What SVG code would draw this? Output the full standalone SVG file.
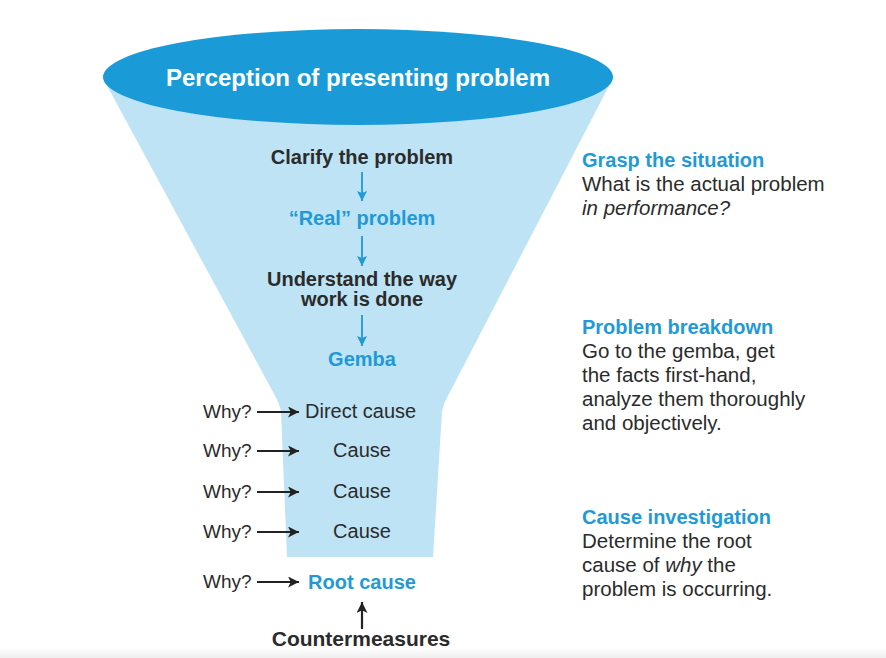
<svg xmlns="http://www.w3.org/2000/svg" width="886" height="658" viewBox="0 0 886 658">
<defs>
<style>
.t{font-family:"Liberation Sans",Arial,sans-serif;font-size:20px;fill:#2b2b2b}
.r{font-size:20.5px}
.b{font-weight:bold}
.blue{fill:#1f9ad6}
.w{fill:#ffffff}
.c{text-anchor:middle}
.i{font-style:italic}
.bl{stroke:#1f9ad6;stroke-width:1.8;fill:none}
.dk{stroke:#222;stroke-width:2.2;fill:none}
</style>
<marker id="ab" viewBox="0 0 10 10" refX="10" refY="5" markerWidth="11" markerHeight="10" markerUnits="userSpaceOnUse" orient="auto">
<path d="M0,0 L10,5 L0,10 L2,5 z" fill="#1f9ad6"/>
</marker>
<marker id="ad" viewBox="0 0 10 10" refX="10" refY="5" markerWidth="13" markerHeight="11" markerUnits="userSpaceOnUse" orient="auto">
<path d="M0,0 L10,5 L0,10 L2.5,5 z" fill="#222"/>
</marker>
<linearGradient id="g" x1="0" y1="0" x2="0" y2="1">
<stop offset="0" stop-color="#ffffff"/>
<stop offset="1" stop-color="#eeeeee"/>
</linearGradient>
</defs>
<rect width="886" height="658" fill="#ffffff"/>
<rect x="0" y="648" width="886" height="10" fill="url(#g)"/>

<g id="funnel">
<path d="M104,80 L612,80 L450,392 Q443,404 442,412 L433,557 L287,557 L281,412 Q280,404 273,392 Z" fill="#bee3f5"/>
<ellipse cx="358" cy="77" rx="255" ry="48" fill="#1a9bd7"/>
<text class="t b w c" x="358" y="86" style="font-size:24px">Perception of presenting problem</text>
</g>

<g id="clarify"><text class="t b c" x="362" y="164">Clarify the problem</text></g>
<g id="real"><text class="t b blue c" x="362" y="225">“Real” problem</text></g>
<g id="understand"><text class="t b c" x="362" y="286">Understand the way</text><text class="t b c" x="362" y="306">work is done</text></g>
<g id="gemba"><text class="t b blue c" x="362" y="366">Gemba</text></g>

<g id="direct"><text class="t" x="305" y="418">Direct cause</text></g>
<g id="cause1"><text class="t c" x="362" y="457">Cause</text></g>
<g id="cause2"><text class="t c" x="362" y="498">Cause</text></g>
<g id="cause3"><text class="t c" x="362" y="538">Cause</text></g>
<g id="root"><text class="t b blue c" x="362" y="589">Root cause</text></g>
<g id="counter"><text class="t b c" x="361" y="646" style="font-size:21px">Countermeasures</text></g>

<g id="why1"><text class="t" x="203" y="418" style="font-size:19px">Why?</text></g>
<g id="why2"><text class="t" x="203" y="457" style="font-size:19px">Why?</text></g>
<g id="why3"><text class="t" x="203" y="498" style="font-size:19px">Why?</text></g>
<g id="why4"><text class="t" x="203" y="538" style="font-size:19px">Why?</text></g>
<g id="why5"><text class="t" x="203" y="588" style="font-size:19px">Why?</text></g>

<g id="grasp">
<text class="t b blue" x="582" y="167">Grasp the situation</text>
<text class="t r" x="582" y="191">What is the actual problem</text>
<text class="t r i" x="582" y="215">in performance?</text>
</g>
<g id="breakdown">
<text class="t b blue" x="582" y="334">Problem breakdown</text>
<text class="t r" x="582" y="358">Go to the gemba, get</text>
<text class="t r" x="582" y="382">the facts first-hand,</text>
<text class="t r" x="582" y="406">analyze them thoroughly</text>
<text class="t r" x="582" y="430">and objectively.</text>
</g>
<g id="investigation">
<text class="t b blue" x="582" y="524">Cause investigation</text>
<text class="t r" x="582" y="548">Determine the root</text>
<text class="t r" x="582" y="572">cause of <tspan class="i">why</tspan> the</text>
<text class="t r" x="582" y="596">problem is occurring.</text>
</g>

<g id="connectors">
<line class="bl" x1="362" y1="172" x2="362" y2="201" marker-end="url(#ab)"/>
<line class="bl" x1="362" y1="236" x2="362" y2="266" marker-end="url(#ab)"/>
<line class="bl" x1="362" y1="315" x2="362" y2="346" marker-end="url(#ab)"/>
<line class="dk" x1="257" y1="412" x2="299" y2="412" marker-end="url(#ad)"/>
<line class="dk" x1="257" y1="451" x2="299" y2="451" marker-end="url(#ad)"/>
<line class="dk" x1="257" y1="492" x2="299" y2="492" marker-end="url(#ad)"/>
<line class="dk" x1="257" y1="532" x2="299" y2="532" marker-end="url(#ad)"/>
<line class="dk" x1="257" y1="582" x2="299" y2="582" marker-end="url(#ad)"/>
<line class="dk" x1="362" y1="629" x2="362" y2="602" marker-end="url(#ad)"/>
</g>
</svg>
